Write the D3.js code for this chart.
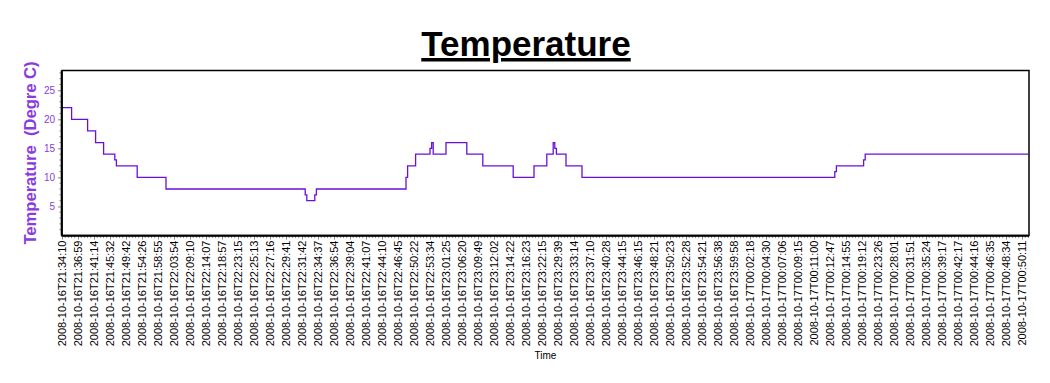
<!DOCTYPE html>
<html>
<head>
<meta charset="utf-8">
<script src="https://cdn.jsdelivr.net/npm/d3@7"></script>
<style>
  html, body { margin: 0; padding: 0; background: #fff; }
  svg { display: block; }
</style>
</head>
<body>
<svg id="chart" width="1050" height="383"></svg>
<script>
// ---- data ----
const tickLabels = [
  "2008-10-16T21:34:10","2008-10-16T21:36:59","2008-10-16T21:41:14","2008-10-16T21:45:32",
  "2008-10-16T21:49:42","2008-10-16T21:54:26","2008-10-16T21:58:55","2008-10-16T22:03:54",
  "2008-10-16T22:09:10","2008-10-16T22:14:07","2008-10-16T22:18:57","2008-10-16T22:23:15",
  "2008-10-16T22:25:13","2008-10-16T22:27:16","2008-10-16T22:29:41","2008-10-16T22:31:42",
  "2008-10-16T22:34:37","2008-10-16T22:36:54","2008-10-16T22:39:04","2008-10-16T22:41:07",
  "2008-10-16T22:44:10","2008-10-16T22:46:45","2008-10-16T22:50:22","2008-10-16T22:53:34",
  "2008-10-16T23:01:25","2008-10-16T23:06:20","2008-10-16T23:09:49","2008-10-16T23:12:02",
  "2008-10-16T23:14:22","2008-10-16T23:16:23","2008-10-16T23:22:15","2008-10-16T23:29:39",
  "2008-10-16T23:33:14","2008-10-16T23:37:10","2008-10-16T23:40:28","2008-10-16T23:44:15",
  "2008-10-16T23:46:15","2008-10-16T23:48:21","2008-10-16T23:50:23","2008-10-16T23:52:28",
  "2008-10-16T23:54:21","2008-10-16T23:56:38","2008-10-16T23:59:58","2008-10-17T00:02:18",
  "2008-10-17T00:04:30","2008-10-17T00:07:06","2008-10-17T00:09:15","2008-10-17T00:11:00",
  "2008-10-17T00:12:47","2008-10-17T00:14:55","2008-10-17T00:19:12","2008-10-17T00:23:26",
  "2008-10-17T00:28:01","2008-10-17T00:31:51","2008-10-17T00:35:24","2008-10-17T00:39:17",
  "2008-10-17T00:42:17","2008-10-17T00:44:16","2008-10-17T00:46:35","2008-10-17T00:48:34",
  "2008-10-17T00:50:11"
];
const samplesPerLabel = 10;
const sampleCount = 605;           // sample indices 0..604
// sample index at which the temperature changes, and the new temperature (deg C)
const changeIdx  = [0, 6, 16, 21, 26, 33, 34, 47, 65, 152, 153, 158, 159, 215, 216, 221, 230, 231, 232, 240,
                    253, 263, 282, 295, 303, 307, 308, 309, 315, 325, 483, 484, 501, 502];
const changeTemp = [22, 20, 18, 16, 14, 13, 12, 10, 8, 7, 6, 7, 8, 10, 12, 14, 15, 16, 14, 16,
                    14, 12, 10, 12, 14, 16, 15, 14, 12, 10, 11, 12, 13, 14];
const yMajorTicks = [5, 10, 15, 20, 25];

// ---- layout ----
const svg = d3.select("#chart");
const L = 62, R = 1029, T = 70.5, B = 235.5;
const x = d3.scaleLinear().domain([0, sampleCount - 1]).range([L, R - 0.6]);
const y = d3.scaleLinear().domain([0, 28.4]).range([B, T]);

const purple = "#8a3be0";

// title
svg.append("text")
  .attr("x", 526).attr("y", 56)
  .attr("text-anchor", "middle")
  .style("font-family", "Arial, 'Liberation Sans', sans-serif")
  .style("font-weight", "bold")
  .style("font-size", "35px")
  .style("text-decoration", "underline")
  .attr("fill", "#000")
  .text("Temperature");

// y axis minor ticks
const yMinor = d3.range(1, 29).filter(v => !yMajorTicks.includes(v));
svg.append("g").selectAll("line").data(yMinor).join("line")
  .attr("x1", L - 2.5).attr("x2", L)
  .attr("y1", d => y(d)).attr("y2", d => y(d))
  .attr("stroke", "#888").attr("stroke-width", 1);

// y axis major ticks + labels
const yAxis = d3.axisLeft(y).tickValues(yMajorTicks).tickSize(4).tickPadding(3);
const gy = svg.append("g").attr("transform", `translate(${L},0)`).call(yAxis);
gy.select(".domain").remove();
gy.selectAll(".tick line").attr("stroke", "#888");
gy.selectAll(".tick text")
  .attr("fill", purple)
  .style("font-family", "Arial, 'Liberation Sans', sans-serif")
  .style("font-size", "10px");

// x axis minor ticks
const xMinor = d3.range(0, sampleCount, 2).filter(i => i % samplesPerLabel !== 0);
svg.append("g").selectAll("line").data(xMinor).join("line")
  .attr("x1", d => x(d)).attr("x2", d => x(d))
  .attr("y1", B).attr("y2", B + 2.5)
  .attr("stroke", "#888").attr("stroke-width", 1);

// x axis major ticks with rotated labels
const xTickIdx = tickLabels.map((_, i) => i * samplesPerLabel);
const xAxis = d3.axisBottom(x).tickValues(xTickIdx)
  .tickFormat((d, i) => tickLabels[i]).tickSize(4);
const gx = svg.append("g").attr("transform", `translate(0,${B})`).call(xAxis);
gx.select(".domain").remove();
gx.selectAll(".tick line").attr("stroke", "#888");
gx.selectAll(".tick text")
  .attr("fill", "#000")
  .style("font-family", "Arial, 'Liberation Sans', sans-serif")
  .style("font-size", "11px")
  .attr("text-anchor", "end")
  .attr("transform", "rotate(-90)")
  .attr("x", -5).attr("y", 0).attr("dy", "0.36em");

// line
const pts = changeIdx.map((d, i) => ({i: d, v: changeTemp[i]}));
pts.push({i: sampleCount - 1, v: changeTemp[changeTemp.length - 1]});
svg.append("path")
  .datum(pts)
  .attr("fill", "none")
  .attr("stroke", "#6a10d8")
  .attr("stroke-width", 1.3)
  .attr("d", d3.line().x(d => x(d.i)).y(d => y(d.v)).curve(d3.curveStepAfter));

// frame
svg.append("rect")
  .attr("x", L).attr("y", T).attr("width", R - L).attr("height", B - T)
  .attr("fill", "none").attr("stroke", "#000").attr("stroke-width", 1.5);
svg.append("line").attr("x1", L - 0.5).attr("x2", R).attr("y1", B + 0.3).attr("y2", B + 0.3)
  .attr("stroke", "#000").attr("stroke-width", 2);
svg.append("line").attr("x1", L - 0.3).attr("x2", L - 0.3).attr("y1", T).attr("y2", B)
  .attr("stroke", "#000").attr("stroke-width", 2);

// y axis title
svg.append("text")
  .attr("transform", `translate(36,${(T + B) / 2}) rotate(-90)`)
  .attr("text-anchor", "middle")
  .attr("fill", purple)
  .style("font-family", "Arial, 'Liberation Sans', sans-serif")
  .style("font-weight", "bold")
  .style("font-size", "16.6px")
  .style("white-space", "pre")
  .text("Temperature  (Degre C)");

// x axis title
svg.append("text")
  .attr("x", (L + R) / 2).attr("y", 359)
  .attr("text-anchor", "middle")
  .attr("fill", "#000")
  .style("font-family", "Arial, 'Liberation Sans', sans-serif")
  .style("font-size", "10px")
  .text("Time");
</script>
</body>
</html>
